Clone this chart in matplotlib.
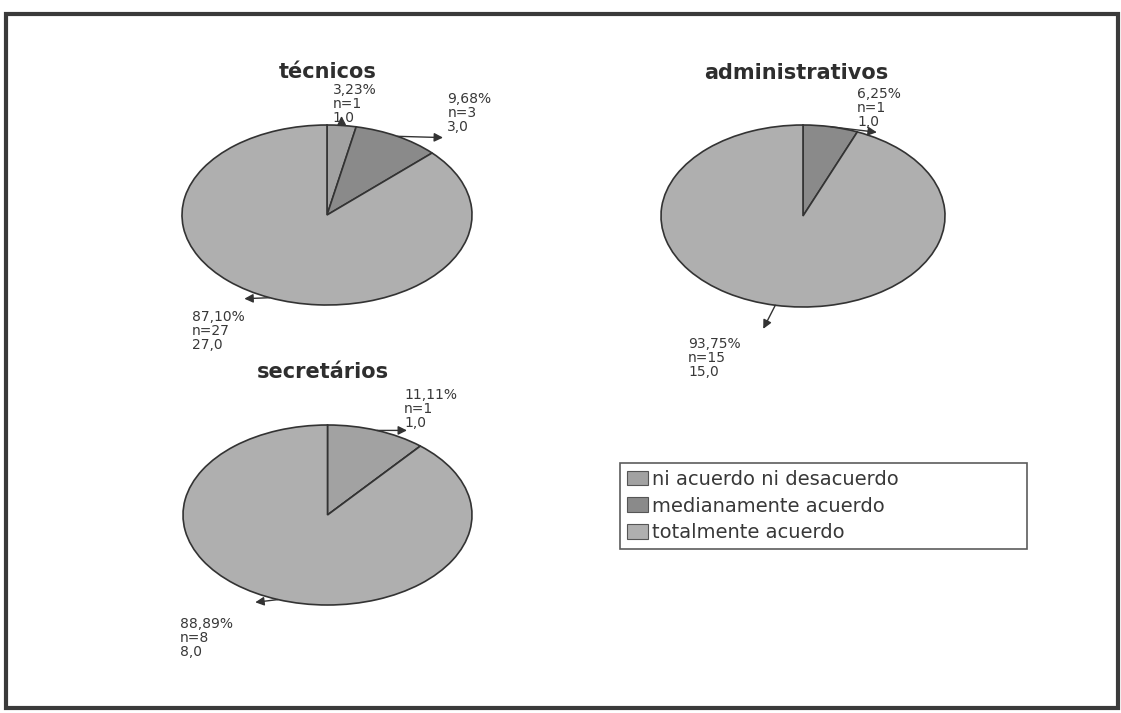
import matplotlib
matplotlib.use("Agg")
import matplotlib.pyplot as plt
from matplotlib.patches import Patch, Rectangle
import numpy as np

# Response categories (legend order) and their fills
categories = ["ni acuerdo ni desacuerdo", "medianamente acuerdo", "totalmente acuerdo"]
colors = ["#a2a2a2", "#8a8a8a", "#afafaf"]

# Counts per group, in category order
groups = ["técnicos", "administrativos", "secretários"]
tecnicos = [1, 3, 27]
administrativos = [0, 1, 15]
secretarios = [1, 0, 8]

W, H = 1121, 713
fig = plt.figure(figsize=(W / 100, H / 100), dpi=100)
fig.patch.set_facecolor("white")

TXT = "#383838"


def px_box(x0, y0, x1, y1):
    """Axes rectangle from pixel corners (top-left origin)."""
    return [x0 / W, 1 - y1 / H, (x1 - x0) / W, (y1 - y0) / H]


def fmt_pct(p):
    return f"{p:.2f}".replace(".", ",") + "%"


# Per-pie layout: axes box, title position, and where each slice label sits
layouts = [
    dict(box=px_box(182, 125, 472, 305), title=(328, 72),
         labels={0: ((0.04, 1.47), (0.10, 1.10)),
                 1: ((0.83, 1.37), (0.80, 0.86)),
                 2: ((-0.93, -1.06), (-0.57, -0.93))}),
    dict(box=px_box(661, 125, 945, 307), title=(796, 73),
         labels={1: ((0.38, 1.42), (0.52, 0.92)),
                 2: ((-0.81, -1.33), (-0.28, -1.24))}),
    dict(box=px_box(183, 425, 472, 605), title=(323, 372),
         labels={0: ((0.53, 1.41), (0.55, 0.94)),
                 2: ((-1.02, -1.13), (-0.50, -0.97))}),
]

for name, counts, lay in zip(groups, [tecnicos, administrativos, secretarios], layouts):
    ax = fig.add_axes(lay["box"])
    counts = np.asarray(counts, dtype=float)
    total = counts.sum()
    wedges, _ = ax.pie(counts, colors=colors, startangle=90, counterclock=False,
                       radius=1.0,
                       wedgeprops=dict(edgecolor="#333333", linewidth=1.2))
    ax.set_aspect("auto")
    ax.set_xlim(-1.0, 1.0)
    ax.set_ylim(-1.0, 1.0)
    ax.axis("off")

    # Slice labels with arrows from the slice edge
    start = 90.0
    for i, c in enumerate(counts):
        if c == 0:
            continue
        span = c / total * 360.0
        mid = np.deg2rad(start - span / 2)
        start -= span
        if i not in lay["labels"]:
            continue
        (tx, ty), (ax_end, ay_end) = lay["labels"][i]
        edge = (np.cos(mid), np.sin(mid))
        ax.annotate("", xy=(ax_end, ay_end), xytext=edge,
                    arrowprops=dict(arrowstyle="-|>", color="#333333", lw=1.0,
                                    mutation_scale=13, shrinkA=0, shrinkB=0),
                    annotation_clip=False)
        label = f"{fmt_pct(c / total * 100)}\nn={int(c)}\n{c:.1f}".replace(".", ",")
        ax.text(tx, ty, label, ha="left", va="top", fontsize=10, color=TXT,
                linespacing=1.0, clip_on=False)

    fig.text(lay["title"][0] / W, 1 - lay["title"][1] / H, name,
             ha="center", va="center", fontsize=15, fontweight="bold", color="#2e2e2e")

# Legend
handles = [Patch(facecolor=c, edgecolor="#555555", linewidth=0.8) for c in colors]
x0, y0, x1, y1 = 620, 463, 1027, 549
leg = fig.legend(handles, categories, loc="upper left",
                 bbox_to_anchor=(x0 / W, 1 - y1 / H, (x1 - x0) / W, (y1 - y0) / H),
                 mode="expand", fontsize=14,
                 frameon=True, fancybox=False, shadow=False,
                 handlelength=1.1, handleheight=0.8, handletextpad=0.2,
                 labelspacing=0.4, borderpad=0.35, borderaxespad=0)
leg.get_frame().set_edgecolor("#333333")
leg.get_frame().set_linewidth(1.2)
for t in leg.get_texts():
    t.set_color(TXT)

# Outer frame
fig.add_artist(Rectangle((6 / W, 1 - 708 / H), (1118 - 6) / W, (708 - 14) / H,
                         transform=fig.transFigure, fill=False,
                         edgecolor="#3a3a3a", linewidth=3))

fig.savefig("out.png", dpi=100, facecolor="white")
